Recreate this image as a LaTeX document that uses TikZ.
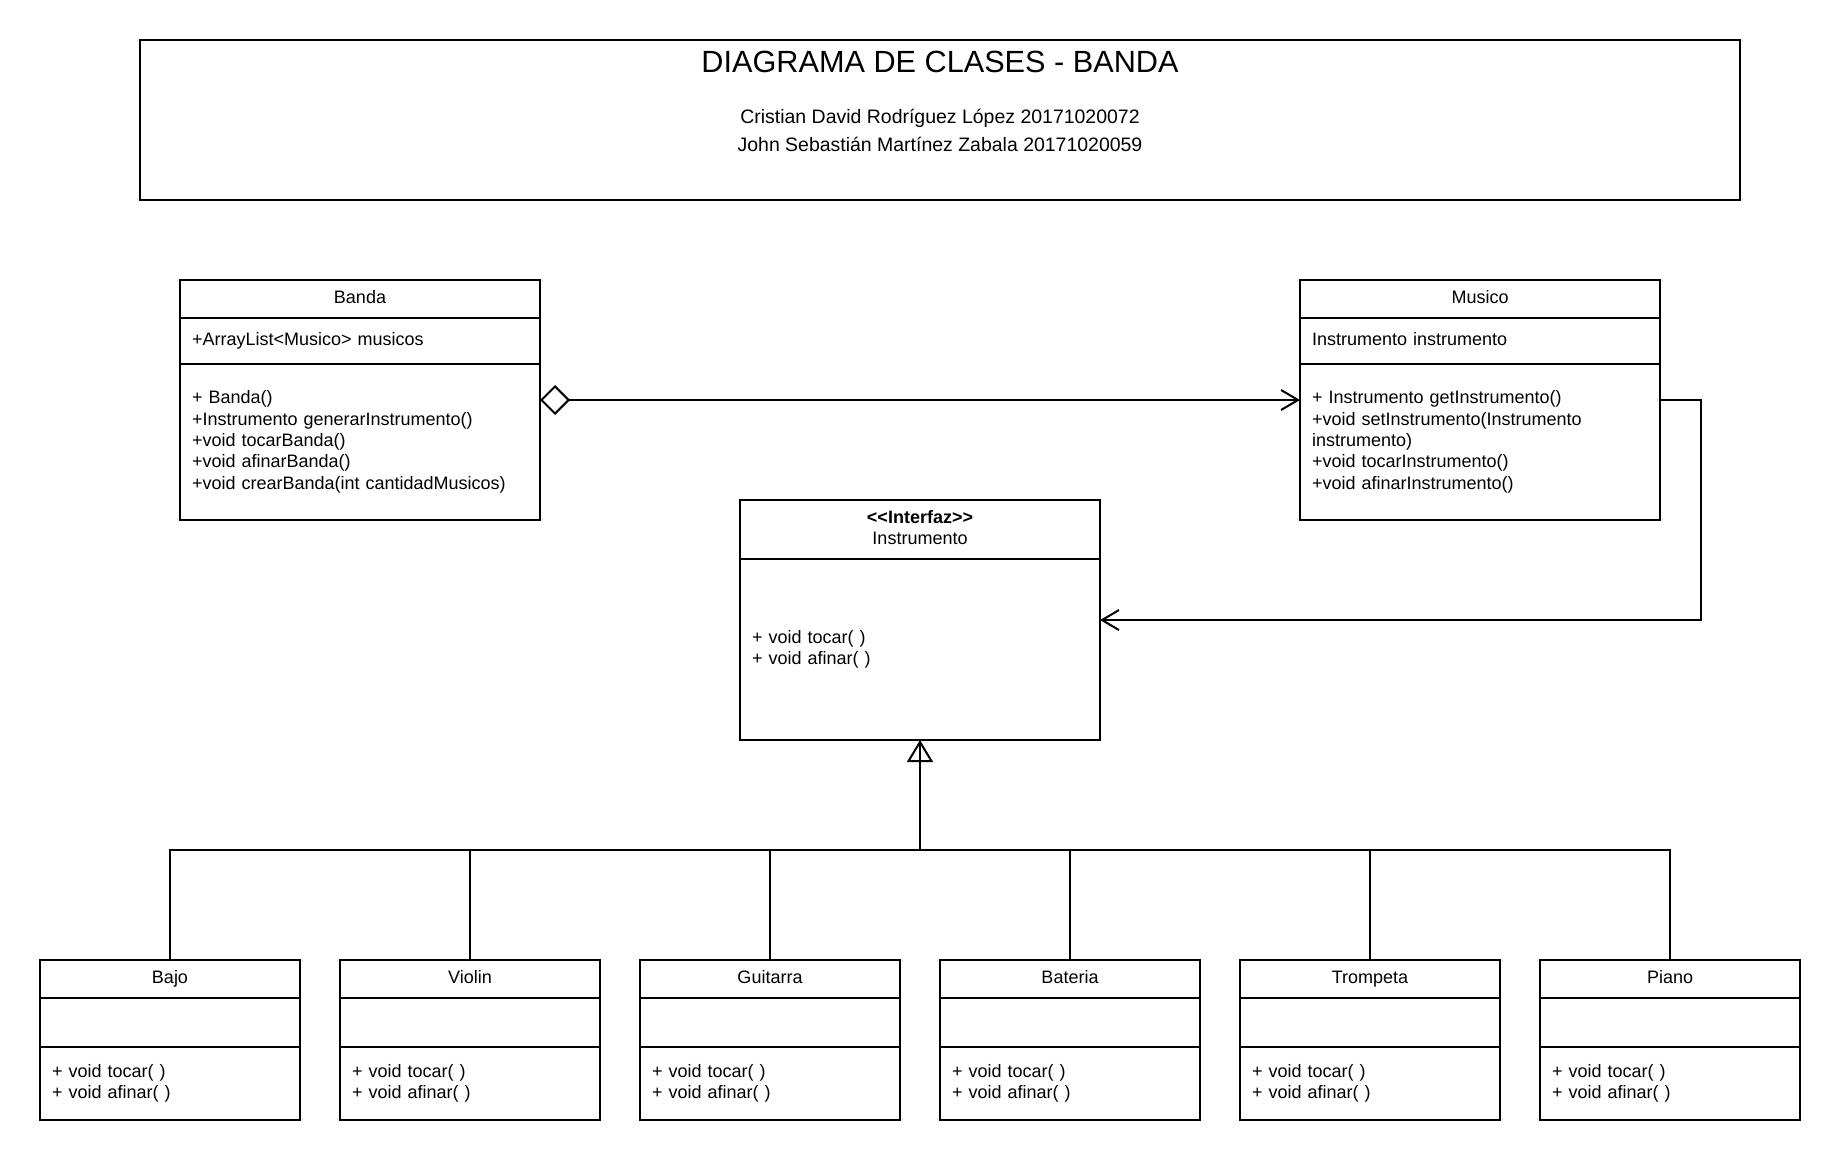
\documentclass[tikz,border=0pt]{standalone}
\usepackage{fontspec}
\setmainfont{Liberation Sans}
\usetikzlibrary{positioning,arrows.meta}

\tikzset{
	linea/.style={line width=1.5pt},
	marco/.style={draw, line width=1.5pt, inner sep=0pt, outer sep=0pt},
	comp/.style={marco, inner xsep=9pt, align=left, font=\fontsize{13.5pt}{16pt}\selectfont},
	grande/.style={comp, text width=252pt},
	chica/.style={comp, text width=177pt},
	una/.style={text height=10pt, text depth=3.8pt},
	abierta/.style={-{Straight Barb[length=12.75pt,width=15pt]}}
}

\begin{document}
\begin{tikzpicture}[x=0.75pt,y=-0.75pt]
	\useasboundingbox (0,0) rectangle (1840,1160);
	% encabezado
	\node[marco, minimum width=1200pt, minimum height=120pt] (cabecera) at (940,120) {};
	\node[anchor=base, font=\fontsize{23pt}{27pt}\selectfont] (titulo) at (940,72.5) {DIAGRAMA DE CLASES - BANDA};
	\node[anchor=base, font=\fontsize{14.6pt}{18pt}\selectfont] (autor1) at (940,123.3) {Cristian David Rodríguez López 20171020072};
	\node[anchor=base, font=\fontsize{14.6pt}{18pt}\selectfont] (autor2) at (940,151.7) {John Sebastián Martínez Zabala 20171020059};
	% Banda
	\node[grande, una, align=center, minimum height=28.5pt] (banda) at (360,299) {Banda};
	\node[grande, una, minimum height=34.5pt, below=0pt of banda] (banda-atr) {+ArrayList<Musico> musicos};
	\node[grande, minimum height=117pt, below=0pt of banda-atr] (banda-met) {+ Banda()\\+Instrumento generarInstrumento()\\+void tocarBanda()\\+void afinarBanda()\\+void crearBanda(int cantidadMusicos)};
	% Musico
	\node[grande, una, align=center, minimum height=28.5pt] (musico) at (1480,299) {Musico};
	\node[grande, una, minimum height=34.5pt, below=0pt of musico] (musico-atr) {Instrumento instrumento};
	\node[grande, minimum height=117pt, below=0pt of musico-atr] (musico-met) {+ Instrumento getInstrumento()\\+void setInstrumento(Instrumento\\instrumento)\\+void tocarInstrumento()\\+void afinarInstrumento()};
	% interfaz
	\node[grande, align=center, minimum height=44.25pt] (instrumento) at (920,529.5) {\textbf{<\kern0pt<Interfaz>\kern0pt>}\\Instrumento\vphantom{p}};
	\node[grande, minimum height=135.75pt, below=0pt of instrumento] (instrumento-met) {+ void tocar( )\\+ void afinar( )};
	% relaciones
	\draw[linea, {Diamond[open,length=22.5pt,width=22.5pt]}-{Straight Barb[length=12.75pt,width=15pt]}] ([yshift=31.5pt]banda-met.east) -- ([yshift=31.5pt]musico-met.west);
	\draw[linea, abierta] ([yshift=31.5pt]musico-met.east) -- ++(30.5pt,0) |- ([yshift=22.1pt]instrumento-met.east);
	\coordinate (bus) at (920,850);
	\draw[linea] (bus) -- (instrumento-met.south);
	\draw[linea, -{Triangle[open,length=16.5pt,width=19.5pt]}] (bus) -- (instrumento-met.south);
	% instrumentos concretos
	\foreach \nombre [count=\i from 0] in {Bajo,Violin,Guitarra,Bateria,Trompeta,Piano} {
		\node[chica, una, align=center, minimum height=28.5pt] (\nombre) at (170+300*\i,979) {\nombre};
		\node[chica, minimum height=36.75pt, below=0pt of \nombre] (\nombre-atr) {};
		\node[chica, minimum height=54.75pt, below=0pt of \nombre-atr] (\nombre-met) {+ void tocar( )\\+ void afinar( )};
		\draw[linea] (\nombre.north) |- (bus);
	}
\end{tikzpicture}
\end{document}
